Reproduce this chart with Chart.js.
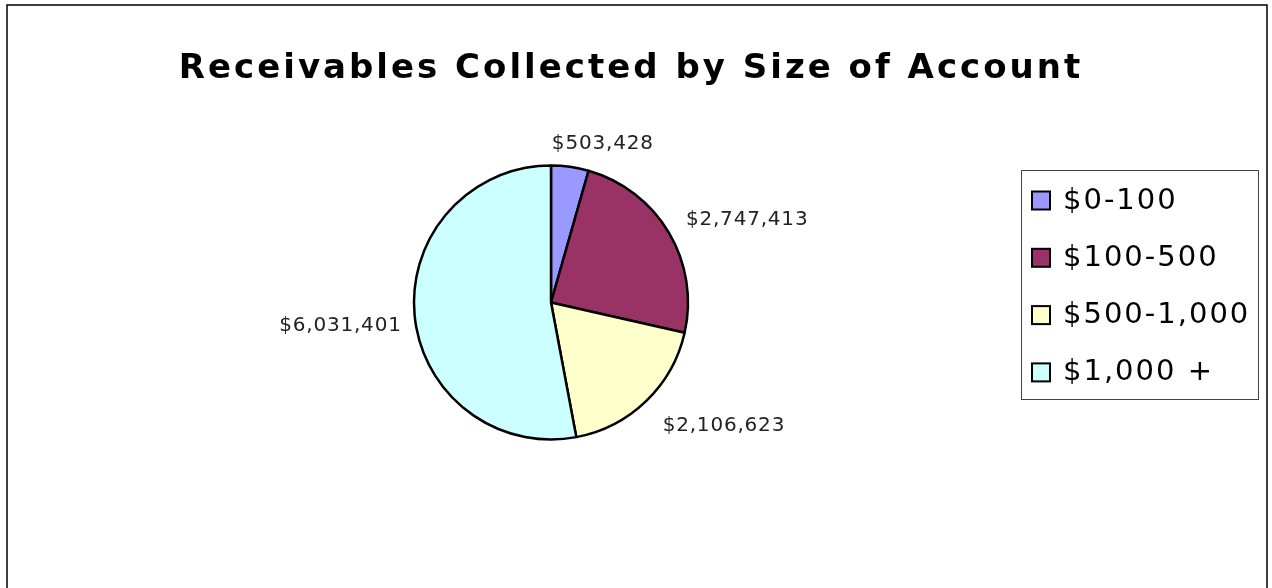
<!DOCTYPE html>
<html>
<head>
<meta charset="utf-8">
<title>Receivables Collected by Size of Account</title>
<script src="https://cdn.jsdelivr.net/npm/chart.js@4.4.1/dist/chart.umd.min.js"></script>
<style>
    html, body { margin: 0; padding: 0; background: #fff; }
    canvas { display: block; }
</style>
</head>
<body>
<canvas id="receivablesChart" width="1272" height="588"></canvas>
<script>
// Dados do gráfico
const chartTitle = 'Receivables Collected by Size of Account';
const accountSizes = ['$0-100', '$100-500', '$500-1,000', '$1,000 +'];
const amountsCollected = [503428, 2747413, 2106623, 6031401];
const sliceColors = ['#9999FF', '#993366', '#FFFFCC', '#CCFFFF'];

// Ajuste fino da posição de cada rótulo (dx, dy) em relação ao ponto radial
const labelNudge = [[-21, -2], [-1, -2], [2, 10], [8, 9]];

const formatMoney = v => '$' + v.toLocaleString('en-US');

// Moldura e título
const framePlugin = {
    id: 'frame',
    beforeDraw(chart) {
        const ctx = chart.ctx;
        ctx.save();
        ctx.fillStyle = '#fff';
        ctx.fillRect(0, 0, chart.width, chart.height);
        ctx.strokeStyle = '#000';
        ctx.lineWidth = 1.5;
        ctx.strokeRect(7, 5, 1260, 700);

        ctx.fillStyle = '#000';
        ctx.font = 'bold 34px "DejaVu Sans", Verdana, sans-serif';
        ctx.letterSpacing = '3px';
        ctx.textAlign = 'center';
        ctx.textBaseline = 'alphabetic';
        ctx.fillText(chartTitle, 631, 78);
        ctx.restore();
    }
};

// Rótulos de valor fora de cada fatia
const sliceLabelPlugin = {
    id: 'sliceLabels',
    afterDatasetsDraw(chart) {
        const ctx = chart.ctx;
        const meta = chart.getDatasetMeta(0);
        ctx.save();
        ctx.font = '20px "DejaVu Sans", Verdana, sans-serif';
        ctx.letterSpacing = '0.8px';
        ctx.fillStyle = '#222';
        ctx.textBaseline = 'middle';
        meta.data.forEach((arc, i) => {
            const { x, y, startAngle, endAngle, outerRadius } = arc.getProps(['x', 'y', 'startAngle', 'endAngle', 'outerRadius'], true);
            const mid = (startAngle + endAngle) / 2;
            const r = outerRadius + 21;
            const px = x + Math.cos(mid) * r + labelNudge[i][0];
            const py = y + Math.sin(mid) * r + labelNudge[i][1];
            ctx.textAlign = Math.cos(mid) >= 0 ? 'left' : 'right';
            ctx.fillText(formatMoney(amountsCollected[i]), px, py);
        });
        ctx.restore();
    }
};

// Legenda com caixa, à direita
const boxedLegendPlugin = {
    id: 'boxedLegend',
    afterDraw(chart) {
        const ctx = chart.ctx;
        const ds = chart.data.datasets[0];
        ctx.save();
        ctx.strokeStyle = '#444';
        ctx.lineWidth = 1;
        ctx.strokeRect(1021.5, 170.5, 237, 229);

        ctx.font = '29px "DejaVu Sans", Verdana, sans-serif';
        ctx.letterSpacing = '2px';
        ctx.textAlign = 'left';
        ctx.textBaseline = 'middle';
        chart.data.labels.forEach((label, i) => {
            const cy = 201 + i * 57.3;
            ctx.fillStyle = ds.backgroundColor[i];
            ctx.fillRect(1032, cy - 9.5, 18, 18);
            ctx.strokeStyle = '#000';
            ctx.lineWidth = 2;
            ctx.strokeRect(1032, cy - 9.5, 18, 18);
            ctx.fillStyle = '#000';
            ctx.fillText(label, 1063, cy);
        });
        ctx.restore();
    }
};

new Chart(document.getElementById('receivablesChart'), {
    type: 'pie',
    data: {
        labels: accountSizes,
        datasets: [{
            data: amountsCollected,
            backgroundColor: sliceColors,
            borderColor: '#000',
            borderWidth: 2.5,
            radius: 137
        }]
    },
    options: {
        responsive: false,
        animation: false,
        layout: { padding: { left: 0, right: 170, top: 17, bottom: 0 } },
        plugins: {
            legend: { display: false },
            title: { display: false },
            tooltip: { enabled: false }
        }
    },
    plugins: [framePlugin, sliceLabelPlugin, boxedLegendPlugin]
});
</script>
</body>
</html>
